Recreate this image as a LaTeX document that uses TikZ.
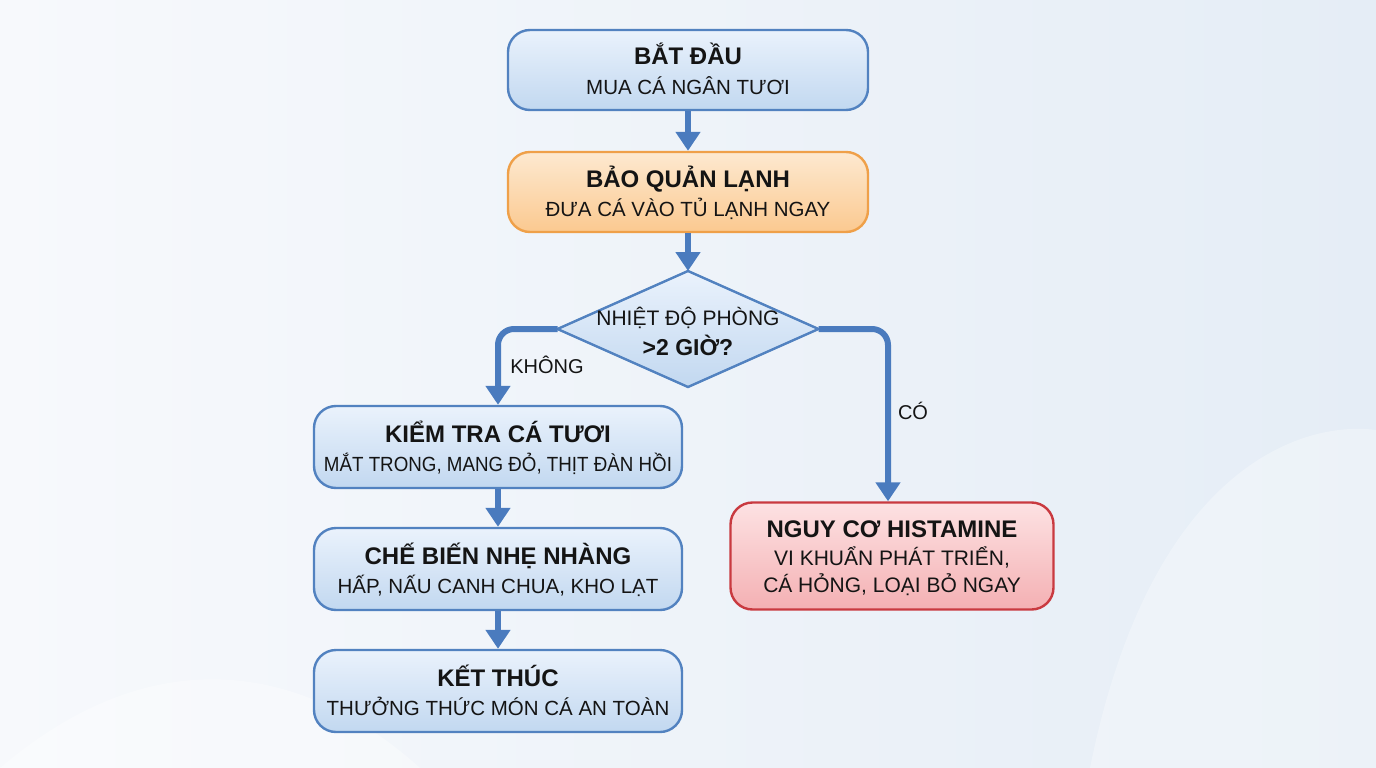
\documentclass[tikz,border=0pt]{standalone}
\usepackage{fontspec}
\usepackage{graphicx}
\setmainfont{Liberation Sans}
\usetikzlibrary{arrows.meta,shapes.geometric}
\definecolor{bgA}{HTML}{F7F9FC}
\definecolor{bgB}{HTML}{E5EDF6}
\definecolor{bluefT}{HTML}{EAF2FC}
\definecolor{bluefB}{HTML}{C2D8F0}
\definecolor{blueD}{HTML}{5282C0}
\definecolor{arrowC}{HTML}{4A7BBE}
\definecolor{orfT}{HTML}{FDE9D0}
\definecolor{orfB}{HTML}{FBC990}
\definecolor{orD}{HTML}{EFA049}
\definecolor{redfT}{HTML}{FDE2E3}
\definecolor{redfB}{HTML}{F4B0B3}
\definecolor{redD}{HTML}{C93A40}
\definecolor{txt}{HTML}{141414}
\tikzset{
  box/.style={rounded corners=22pt, line width=2.4pt, minimum width=360pt, minimum height=80pt,
    inner sep=0pt, draw=blueD, top color=bluefT, bottom color=bluefB},
  orbox/.style={box, draw=orD, top color=orfT, bottom color=orfB},
  redbox/.style={box, draw=redD, top color=redfT, bottom color=redfB},
  flow/.style={line width=6pt, draw=arrowC, -{Triangle[width=24pt,length=19pt]}},
  ttlS/.style={text=txt, inner sep=0pt, font=\bfseries\fontsize{24}{28}\selectfont},
  subS/.style={text=txt, inner sep=0pt, font=\fontsize{20.5}{24}\selectfont},
  lbl/.style={text=txt, font=\fontsize{20}{24}\selectfont, inner sep=0pt, anchor=base},
}
\newcommand{\boxtxt}[3]{%
  \node[ttlS, anchor=base] (#1-t) at ([yshift=5pt]#1.center) {#2};
  \node[subS, anchor=base] (#1-s) at ([yshift=-24pt]#1.center) {#3};}
\begin{document}
\begin{tikzpicture}[x=1pt,y=-1pt]
\useasboundingbox (0,0) rectangle (1376,768);
\fill[left color=bgA, right color=bgB] (0,0) rectangle (1376,768);
\fill[white, opacity=0.35] (0,768) .. controls (150,640) and (300,660) .. (420,768) -- cycle;
\fill[white, opacity=0.3] (1090,768) .. controls (1150,470) and (1300,420) .. (1376,430) -- (1376,768) -- cycle;

\node[box] (start) at (688,70) {};
\node[orbox] (cold) at (688,192) {};
\node[diamond, draw=blueD, line width=2.4pt, top color=bluefT, bottom color=bluefB,
  minimum width=261pt, minimum height=116pt, inner sep=0pt, outer sep=0pt] (dec) at (688,329) {};
\node[box, minimum width=368pt, minimum height=82pt] (check) at (498,447) {};
\node[box, minimum width=368pt, minimum height=82pt] (cook) at (498,569) {};
\node[box, minimum width=368pt, minimum height=82pt] (finish) at (498,691) {};
\node[redbox, minimum width=323pt, minimum height=107pt] (risk) at (892,556) {};

\boxtxt{start}{BẮT ĐẦU}{MUA CÁ NGÂN TƯƠI}
\boxtxt{cold}{BẢO QUẢN LẠNH}{ĐƯA CÁ VÀO TỦ LẠNH NGAY}
\boxtxt{check}{KIỂM TRA CÁ TƯƠI}{\scalebox{0.915}[1]{MẮT TRONG, MANG ĐỎ, THỊT ĐÀN HỒI}}
\boxtxt{cook}{CHẾ BIẾN NHẸ NHÀNG}{HẤP, NẤU CANH CHUA, KHO LẠT}
\boxtxt{finish}{KẾT THÚC}{THƯỞNG THỨC MÓN CÁ AN TOÀN}

\node[subS, anchor=base, font=\fontsize{21}{24}\selectfont] (dec-a) at ([yshift=4pt]dec.center) {NHIỆT ĐỘ PHÒNG};
\node[ttlS, anchor=base, font=\bfseries\fontsize{23}{28}\selectfont] (dec-b) at ([yshift=-26pt]dec.center) {>2 GIỜ?};

\node[ttlS, anchor=base] (risk-t) at ([yshift=19pt]risk.center) {NGUY CƠ HISTAMINE};
\node[subS, anchor=base, font=\fontsize{21}{24}\selectfont] (risk-a) at ([yshift=-9pt]risk.center) {VI KHUẨN PHÁT TRIỂN,};
\node[subS, anchor=base, font=\fontsize{21}{24}\selectfont] (risk-b) at ([yshift=-36pt]risk.center) {CÁ HỎNG, LOẠI BỎ NGAY};

\draw[flow] (start.south) -- (cold.north);
\draw[flow] (cold.south) -- (dec.north);
\draw[flow, rounded corners=16pt] (dec.west) -| (check.north);
\draw[flow, rounded corners=16pt] (dec.east) -| ([xshift=-4pt]risk.north);
\draw[flow] (check.south) -- (cook.north);
\draw[flow] (cook.south) -- (finish.north);

\node[lbl] (no) at (547,373) {KHÔNG};
\node[lbl] (yes) at (913,419) {CÓ};
\end{tikzpicture}
\end{document}
